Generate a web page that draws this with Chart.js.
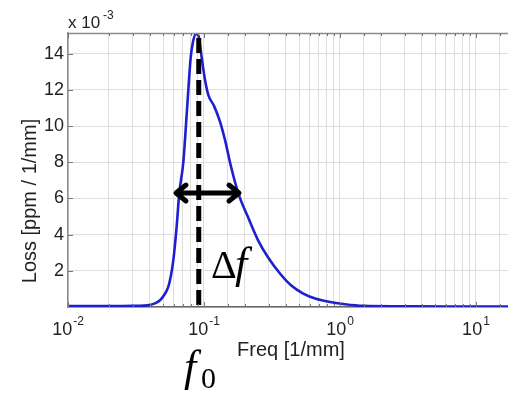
<!DOCTYPE html>
<html>
<head>
<meta charset="utf-8">
<script src="https://cdn.jsdelivr.net/npm/chart.js@4"></script>
<style>
    html, body { margin: 0; padding: 0; background: #fff; }
    #wrap { width: 508px; height: 393px; position: relative; }
</style>
</head>
<body>
<div id="wrap"><canvas id="lossChart"></canvas></div>
<script>
// Dados (Loss em unidades de 1e-3)
const freq = [0.01, 0.02, 0.03, 0.0379, 0.0436, 0.0475, 0.0508, 0.0546, 0.0572, 0.0595, 0.0628,
    0.0658, 0.0705, 0.075, 0.0798, 0.083, 0.0873, 0.0911, 0.0962, 0.1017, 0.1075, 0.1185, 0.1311,
    0.1427, 0.157, 0.1788, 0.2106, 0.2494, 0.2955, 0.362, 0.4363, 0.5372, 0.6661, 0.8444, 1.088,
    1.483, 2.75, 6, 17.2];
const loss = [0.05, 0.05, 0.06, 0.09, 0.2, 0.37, 0.65, 1.11, 1.76, 2.59, 4.36,
    6.28, 8.02, 10.9, 13.78, 14.66, 15.1, 15.0, 13.78, 12.56, 11.73, 11.12, 10.25,
    9.24, 7.85, 6.28, 4.97, 3.7, 2.75, 1.85, 1.2, 0.74, 0.45, 0.28, 0.15,
    0.06, 0.04, 0.03, 0.03];
const yTicks = [2, 4, 6, 8, 10, 12, 14];
const xDecades = [-2, -1, 0, 1];

// Anotações
const f0 = 0.0915;
const arrowFrom = 0.0612;
const arrowTo = 0.184;
const arrowLevel = 6.3;

const SANS = "'Liberation Sans', Arial, sans-serif";
const SERIF = "'Liberation Serif', 'DejaVu Serif', serif";

const annotPlugin = {
    id: 'annot',
    afterDatasetsDraw(chart) {
        const { ctx, chartArea, scales } = chart;
        const x = scales.x, y = scales.y;
        ctx.save();
        // linha tracejada em f0
        const px = x.getPixelForValue(f0);
        ctx.strokeStyle = '#000';
        ctx.lineWidth = 5;
        ctx.setLineDash([15, 6]);
        ctx.beginPath();
        ctx.moveTo(px, chartArea.top + 5);
        ctx.lineTo(px, chartArea.bottom + 3);
        ctx.stroke();
        ctx.setLineDash([]);

        // seta dupla
        const ax1 = x.getPixelForValue(arrowFrom);
        const ax2 = x.getPixelForValue(arrowTo);
        const ay = y.getPixelForValue(arrowLevel);
        ctx.lineWidth = 5;
        ctx.lineCap = 'round';
        ctx.lineJoin = 'round';
        ctx.beginPath();
        ctx.moveTo(ax1 + 2, ay);
        ctx.lineTo(ax2 - 2, ay);
        ctx.moveTo(ax1 + 11, ay - 8);
        ctx.lineTo(ax1 + 1, ay);
        ctx.lineTo(ax1 + 11, ay + 8);
        ctx.moveTo(ax2 - 11, ay - 8);
        ctx.lineTo(ax2 - 1, ay);
        ctx.lineTo(ax2 - 11, ay + 8);
        ctx.stroke();
        ctx.restore();
    },
    afterDraw(chart) {
        const { ctx, chartArea, scales } = chart;
        ctx.save();
        // moldura superior
        ctx.strokeStyle = '#8c8c8c';
        ctx.lineWidth = 1.5;
        ctx.beginPath();
        ctx.moveTo(chartArea.left, chartArea.top + 0.5);
        ctx.lineTo(chartArea.right, chartArea.top + 0.5);
        ctx.stroke();

        // marcas de tick internas (estilo MATLAB)
        ctx.strokeStyle = '#777';
        ctx.lineWidth = 1;
        ctx.beginPath();
        scales.x.ticks.forEach(t => {
            const px = Math.round(scales.x.getPixelForValue(t.value)) + 0.5;
            const e = Math.log10(t.value);
            const len = Math.abs(e - Math.round(e)) < 1e-9 ? 5 : 3;
            ctx.moveTo(px, chartArea.top);
            ctx.lineTo(px, chartArea.top + len);
            ctx.moveTo(px, chartArea.bottom);
            ctx.lineTo(px, chartArea.bottom - len);
        });
        yTicks.forEach(v => {
            const py = Math.round(scales.y.getPixelForValue(v)) + 0.5;
            ctx.moveTo(chartArea.left, py);
            ctx.lineTo(chartArea.left + 5, py);
        });
        ctx.stroke();

        ctx.fillStyle = '#222';
        ctx.textBaseline = 'alphabetic';

        // rótulos do eixo x (10 com expoente)
        xDecades.forEach(e => {
            const px = scales.x.getPixelForValue(Math.pow(10, e));
            const exp = String(e);
            ctx.font = '18px ' + SANS;
            const wBase = ctx.measureText('10').width;
            ctx.font = '12px ' + SANS;
            const wExp = ctx.measureText(exp).width;
            const left = px - (wBase + 1 + wExp) / 2;
            ctx.textAlign = 'left';
            ctx.font = '18px ' + SANS;
            ctx.fillText('10', left, 335);
            ctx.font = '12px ' + SANS;
            ctx.fillText(exp, left + wBase + 1, 325);
        });

        // multiplicador
        ctx.textAlign = 'left';
        ctx.font = '17px ' + SANS;
        ctx.fillText('x 10', 68, 28);
        ctx.font = '12px ' + SANS;
        ctx.fillText('-3', 103, 19);

        // títulos dos eixos
        ctx.font = '20px ' + SANS;
        ctx.textAlign = 'center';
        ctx.fillText('Freq [1/mm]', 291, 356);
        ctx.save();
        ctx.translate(36, 201);
        ctx.rotate(-Math.PI / 2);
        ctx.fillText('Loss [ppm / 1/mm]', 0, 0);
        ctx.restore();

        // Δf e f0
        ctx.fillStyle = '#000';
        ctx.textAlign = 'left';
        ctx.font = '40px ' + SERIF;
        ctx.fillText('Δ', 211, 278);
        ctx.font = 'italic 44px ' + SERIF;
        ctx.fillText('f', 235, 278);
        ctx.fillText('f', 184, 381);
        ctx.font = '30px ' + SERIF;
        ctx.fillText('0', 201, 388);
        ctx.restore();
    }
};

const ctx = document.getElementById('lossChart');
new Chart(ctx, {
    type: 'line',
    data: {
        datasets: [{
            data: freq.map((f, i) => ({ x: f, y: loss[i] })),
            borderColor: '#1f1fd0',
            borderWidth: 2.6,
            pointRadius: 0,
            cubicInterpolationMode: 'monotone',
            fill: false
        }]
    },
    options: {
        responsive: true,
        maintainAspectRatio: false,
        animation: false,
        layout: { padding: { left: 0, right: 0, top: 33, bottom: 0 } },
        plugins: {
            legend: { display: false },
            tooltip: { enabled: false }
        },
        scales: {
            x: {
                type: 'logarithmic',
                min: 0.01,
                max: 17.2,
                afterFit(scale) {
                    scale.height = 86;
                    scale.paddingLeft = 0;
                    scale.paddingRight = 0;
                },
                border: { display: true, color: '#666', width: 1.5 },
                grid: { color: '#dedede', lineWidth: 1, drawTicks: false },
                ticks: {
                    display: false,
                    autoSkip: false,
                    maxRotation: 0
                }
            },
            y: {
                min: 0,
                max: 15.15,
                afterFit(scale) {
                    scale.width = 68;
                    scale.paddingTop = 0;
                    scale.paddingBottom = 0;
                },
                border: { display: true, color: '#8c8c8c', width: 1.5 },
                grid: { color: '#dedede', lineWidth: 1, drawTicks: false },
                ticks: {
                    stepSize: 2,
                    padding: 4,
                    color: '#222',
                    font: { family: SANS, size: 18 },
                    callback(value) {
                        return yTicks.includes(value) ? value : '';
                    }
                }
            }
        }
    },
    plugins: [annotPlugin]
});
</script>
</body>
</html>
